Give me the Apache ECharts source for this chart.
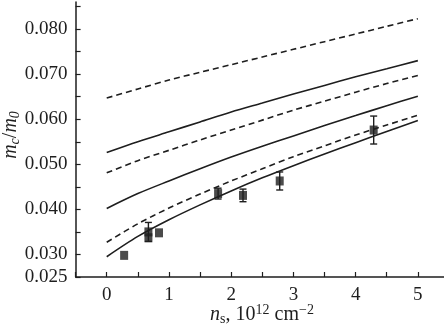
<!DOCTYPE html>
<html>
<head>
<meta charset="utf-8">
<script src="https://cdn.jsdelivr.net/npm/echarts@6/dist/echarts.min.js"></script>
<style>
  html, body { margin: 0; padding: 0; background: #fff; }
  #chart { width: 444px; height: 329px; }
</style>
</head>
<body>
<div id="chart"></div>
<script>
// carrier density, 10^12 cm^-2
const nsGrid = [0, 0.5, 1, 1.5, 2, 2.5, 3, 3.5, 4, 4.5, 5]

// calculated curves (m_c/m_0)
const dashedTop = [0.0647, 0.0667, 0.0687, 0.0704, 0.0721, 0.0738, 0.0755, 0.0772, 0.0789, 0.0806, 0.0823]
const solidTop = [0.0526, 0.0550, 0.0572, 0.0594, 0.0616, 0.0636, 0.0656, 0.0675, 0.0694, 0.0712, 0.0730]
const dashedMid = [0.0481, 0.0508, 0.0531, 0.0554, 0.0576, 0.0598, 0.0620, 0.0640, 0.0660, 0.0679, 0.0697]
const solidMid = [0.0402, 0.0435, 0.0463, 0.0490, 0.0516, 0.0540, 0.0563, 0.0586, 0.0608, 0.0630, 0.0651]
const dashedLow = [0.0327, 0.0368, 0.0403, 0.0434, 0.0463, 0.0490, 0.0517, 0.0541, 0.0565, 0.0587, 0.0609]
const solidLow = [0.0295, 0.0340, 0.0377, 0.0410, 0.0441, 0.0470, 0.0497, 0.0523, 0.0548, 0.0573, 0.0597]

// experiment: ns, m_c/m_0, error
const expNs = [0.28, 0.67, 0.67, 0.84, 1.79, 2.19, 2.78, 4.29]
const expMass = [0.0298, 0.0350, 0.0337, 0.0348, 0.0435, 0.0431, 0.0463, 0.0576]
const expErr = [0, 0.0021, 0, 0, 0.0012, 0.0014, 0.0020, 0.0031]

const yLabels = [0.025, 0.03, 0.04, 0.05, 0.06, 0.07, 0.08]
const xLabels = [0, 1, 2, 3, 4, 5]

const ink = '#1e1e1e'
const font = 'Liberation Serif'

function curve(values, dashed) {
  return {
    type: 'line',
    data: nsGrid.map((x, i) => [x, values[i]]),
    showSymbol: false,
    smooth: 0.3,
    silent: true,
    lineStyle: {
      color: ink,
      width: 1.6,
      type: dashed ? [6, 4] : 'solid'
    }
  }
}

const chart = echarts.init(document.getElementById('chart'))
chart.setOption({
  animation: false,
  backgroundColor: '#fff',
  grid: { left: 75.6, right: 0, top: 2, bottom: 52 },
  xAxis: {
    type: 'value',
    min: -0.5,
    max: 5.42,
    interval: 0.5,
    splitLine: { show: false },
    axisLine: { onZero: false, lineStyle: { color: ink, width: 1.5 } },
    axisTick: { inside: true, length: 5, lineStyle: { color: ink, width: 1.2 } },
    axisLabel: {
      margin: 9,
      color: ink,
      fontFamily: font,
      fontSize: 19,
      showMaxLabel: false,
      formatter: v => (xLabels.some(t => Math.abs(t - v) < 1e-6) ? String(Math.round(v)) : '')
    }
  },
  yAxis: {
    type: 'value',
    min: 0.025,
    max: 0.086,
    interval: 0.005,
    splitLine: { show: false },
    axisLine: { onZero: false, lineStyle: { color: ink, width: 1.5 } },
    axisTick: { inside: true, length: 5, lineStyle: { color: ink, width: 1.2 } },
    axisLabel: {
      margin: 8,
      color: ink,
      fontFamily: font,
      fontSize: 19,
      showMaxLabel: false,
      formatter: v => (yLabels.some(t => Math.abs(t - v) < 1e-6) ? v.toFixed(3) : '')
    }
  },
  graphic: [
    {
      type: 'text',
      x: 11,
      y: 135,
      rotation: Math.PI / 2,
      style: {
        text: '{i|m}{s|c}{t|/}{i|m}{s|0}',
        align: 'center',
        verticalAlign: 'middle',
        fill: ink,
        rich: {
          i: { fontFamily: font, fontStyle: 'italic', fontSize: 20, fill: ink },
          t: { fontFamily: font, fontSize: 20, fill: ink },
          s: { fontFamily: font, fontStyle: 'italic', fontSize: 14, fill: ink, padding: [9, 0, 0, 0] }
        }
      }
    },
    {
      type: 'text',
      x: 262,
      y: 315,
      style: {
        text: '{i|n}{s|s}{t|, 10}{p|12}{t| cm}{p|−2}',
        align: 'center',
        verticalAlign: 'middle',
        fill: ink,
        rich: {
          i: { fontFamily: font, fontStyle: 'italic', fontSize: 20, fill: ink },
          t: { fontFamily: font, fontSize: 20, fill: ink },
          s: { fontFamily: font, fontSize: 14, fill: ink, padding: [9, 0, 0, 0] },
          p: { fontFamily: font, fontSize: 14, fill: ink, padding: [0, 0, 9, 0] }
        }
      }
    }
  ],
  series: [
    curve(dashedTop, true),
    curve(solidTop, false),
    curve(dashedMid, true),
    curve(solidMid, false),
    curve(dashedLow, true),
    curve(solidLow, false),
    {
      type: 'custom',
      silent: true,
      data: expNs.map((x, i) => [x, expMass[i], expErr[i]]),
      renderItem: (params, api) => {
        const x = api.value(0)
        const y = api.value(1)
        const e = api.value(2)
        if (!e) return null
        const top = api.coord([x, y + e])
        const bot = api.coord([x, y - e])
        const cap = 3.5
        const style = { stroke: ink, lineWidth: 1.4 }
        return {
          type: 'group',
          children: [
            { type: 'line', shape: { x1: top[0], y1: top[1], x2: bot[0], y2: bot[1] }, style },
            { type: 'line', shape: { x1: top[0] - cap, y1: top[1], x2: top[0] + cap, y2: top[1] }, style },
            { type: 'line', shape: { x1: bot[0] - cap, y1: bot[1], x2: bot[0] + cap, y2: bot[1] }, style }
          ]
        }
      },
      z: 3
    },
    {
      type: 'scatter',
      silent: true,
      symbol: 'rect',
      symbolSize: [8, 9],
      data: expNs.map((x, i) => [x, expMass[i]]),
      itemStyle: { color: ink },
      z: 4
    }
  ]
})
</script>
</body>
</html>
